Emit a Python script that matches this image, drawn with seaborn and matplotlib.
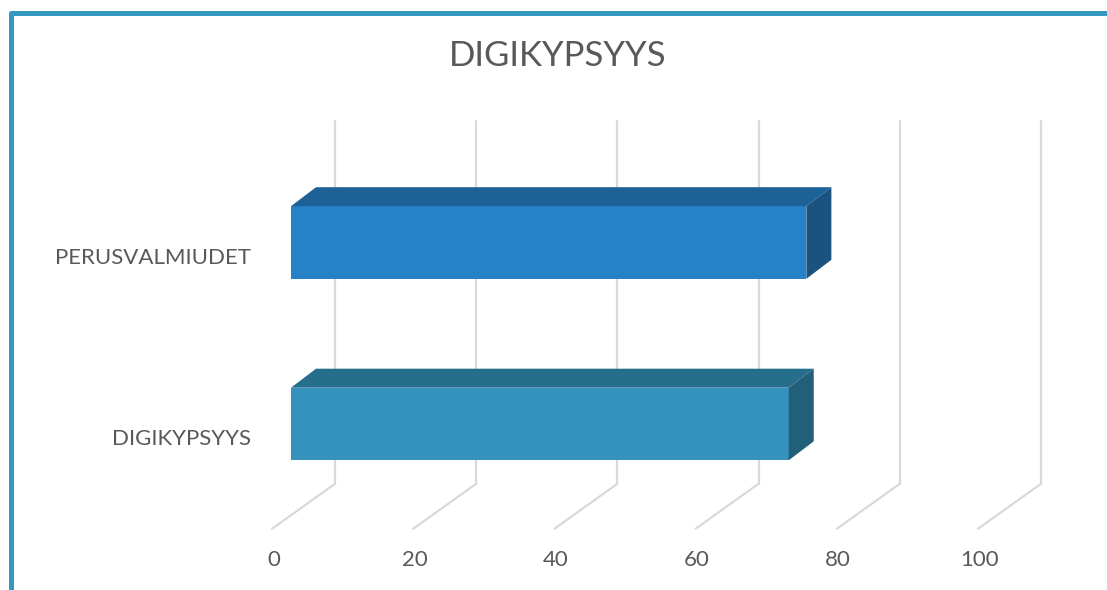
import matplotlib
matplotlib.use("Agg")
import matplotlib.pyplot as plt
import seaborn as sns
import pandas as pd
from matplotlib.patches import Polygon
from matplotlib.lines import Line2D

# ---- data ----
categories = ["PERUSVALMIUDET", "DIGIKYPSYYS"]
values = [73, 70.5]
x_ticks = [0, 20, 40, 60, 80, 100]
tick_labels = ["0", "20", "40", "60", "80", "100"]
title = "DIGIKYPSYYS"

front_colors = ["#2682C6", "#3492BC"]
top_colors = ["#1D6296", "#266F8C"]
side_colors = ["#1A5280", "#225F78"]

sns.set_theme(style="white")
plt.rcParams['font.family'] = ['Lato', 'DejaVu Sans']

W, H, DPI = 1107, 590, 100
fig = plt.figure(figsize=(W / DPI, H / DPI), dpi=DPI)
fig.patch.set_facecolor("white")

ax_left, ax_right, ax_top, ax_bottom = 291, 997, 151.75, 514.75
ax = fig.add_axes([ax_left / W, 1 - ax_bottom / H, (ax_right - ax_left) / W, (ax_bottom - ax_top) / H])

df = pd.DataFrame({"cat": categories, "val": values})
sns.barplot(data=df, x="val", y="cat", hue="cat", palette=front_colors, orient="h",
            width=0.4, ax=ax, legend=False, saturation=1, linewidth=0, zorder=3)
ax.set_xlim(0, 100)
ax.set_ylim(1.5, -0.5)
ax.axis("off")

# pixel -> data scale
sx = (ax_right - ax_left) / 100.0
sy = (ax_bottom - ax_top) / 2.0

def dx(px):
    return px / sx

def dy(px):  # image pixels downward -> data (inverted axis)
    return px / sy

# offsets relative to bar front-face plane
back = (dx(44), dy(-31))
front = (dx(-19), dy(14))
depth = (dx(25), dy(-19))

grid_c = "#D9D9D9"
ymin, ymax = 1.5, -0.5
for t in x_ticks:
    # back wall vertical gridline
    ax.plot([t + back[0], t + back[0]], [ymin + back[1], ymax + back[1]],
            color=grid_c, lw=1.6, clip_on=False, zorder=0)
    # floor line
    ax.plot([t + back[0], t + front[0]], [ymin + back[1], ymin + front[1]],
            color=grid_c, lw=1.6, clip_on=False, zorder=0)

# 3D faces
for p in list(ax.patches):
    x0, w = p.get_x(), p.get_width()
    y0, h = p.get_y(), p.get_height()
    idx = int(round(y0 + h / 2))
    x1 = x0 + w
    top = Polygon([(x0, y0), (x1, y0), (x1 + depth[0], y0 + depth[1]), (x0 + depth[0], y0 + depth[1])],
                  closed=True, facecolor=top_colors[idx], edgecolor="none", clip_on=False, zorder=3)
    side = Polygon([(x1, y0), (x1 + depth[0], y0 + depth[1]), (x1 + depth[0], y0 + h + depth[1]), (x1, y0 + h)],
                   closed=True, facecolor=side_colors[idx], edgecolor="none", clip_on=False, zorder=3)
    ax.add_patch(top)
    ax.add_patch(side)
    p.set_clip_on(False)

text_c = "#595959"
# category labels
for i, c in enumerate(categories):
    ax.text(front[0] - dx(21), i + front[1] + dy(1), c, ha="right", va="center",
            fontsize=16, color=text_c, clip_on=False)

# tick labels
for t, lab in zip(x_ticks, tick_labels):
    ax.text(t + front[0] + dx(1.5), ymin + front[1] + dy(31), lab, ha="center", va="center",
            fontsize=16, color=text_c, clip_on=False)

# title
fig.text(558 / W, 1 - 56 / H, title, ha="center", va="center", fontsize=25, color=text_c)

# frame border
bx, by_ = 10.5 / W, 1 - 12.5 / H
fig.add_artist(Line2D([1.02, bx, bx], [by_, by_, -0.02], color="#3498C1", lw=3.6,
                      solid_joinstyle="round", transform=fig.transFigure))

fig.savefig("out.png", dpi=DPI)
